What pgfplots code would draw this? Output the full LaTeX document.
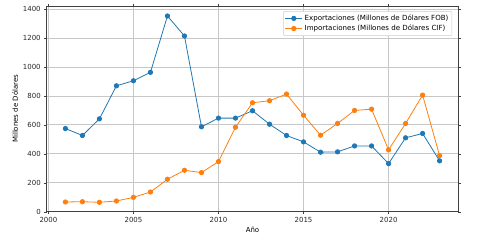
\documentclass[border=0pt]{standalone}
\usepackage{pgfplots}
\pgfplotsset{compat=1.18}
\usepackage{fontspec}
\setmainfont{DejaVu Sans}
\definecolor{c0}{HTML}{1F77B4}
\definecolor{c1}{HTML}{FF7F0E}
\begin{document}
\begin{tikzpicture}
\useasboundingbox (-46.7bp,-33.3bp) rectangle (432.3bp,211.7bp);
\begin{axis}[
  at={(0,0)}, anchor=south west,
  scale only axis, width=411.6bp, height=205.7bp,
  xmin=1999.9, xmax=2024.1, ymin=0, ymax=1420,
  xtick={2000,2005,2010,2015,2020},
  ytick={0,200,400,600,800,1000,1200,1400},
  xticklabel style={/pgf/number format/1000 sep={}},
  /pgf/number format/1000 sep={},
  /pgf/number format/assume math mode=true,
  tick label style={font=\fontsize{7}{8.5}\selectfont, text=black!85},
  label style={font=\fontsize{7}{8.5}\selectfont},
  xlabel={Año}, ylabel={Millones de Dólares},
  xlabel style={yshift=3pt},
  ylabel style={yshift=-2pt},
  grid=major, grid style={color=black!22, line width=0.6pt},
  axis line style={color=black!75, line width=0.6pt},
  tick style={color=black!75},
  tick align=outside, major tick length=2.5pt,
  legend style={at={(0.985,0.975)}, anchor=north east, font=\fontsize{7.1}{8.5}\selectfont, draw=black!20, rounded corners=1pt, inner sep=1.5pt, row sep=-1pt},
  legend cell align=left,
]
\addplot[c0, line width=0.8pt, mark=*, mark size=2.2pt, mark options={fill=c0, draw=c0}] coordinates {
(2001,574)(2002,526)(2003,641)(2004,869)(2005,904)(2006,962)(2007,1351)(2008,1213)(2009,586)(2010,646)(2011,646)(2012,697)(2013,604)(2014,526)(2015,482)(2016,411)(2017,413)(2018,454)(2019,454)(2020,332)(2021,510)(2022,540)(2023,351)};
\addlegendentry{Exportaciones (Millones de Dólares FOB)}
\addplot[c1, line width=0.8pt, mark=*, mark size=2.2pt, mark options={fill=c1, draw=c1}] coordinates {
(2001,67)(2002,69)(2003,65)(2004,74)(2005,99)(2006,136)(2007,224)(2008,286)(2009,270)(2010,346)(2011,583)(2012,752)(2013,766)(2014,812)(2015,666)(2016,528)(2017,609)(2018,699)(2019,708)(2020,427)(2021,609)(2022,805)(2023,387)};
\addlegendentry{Importaciones (Millones de Dólares CIF)}
\end{axis}
\end{tikzpicture}
\end{document}
